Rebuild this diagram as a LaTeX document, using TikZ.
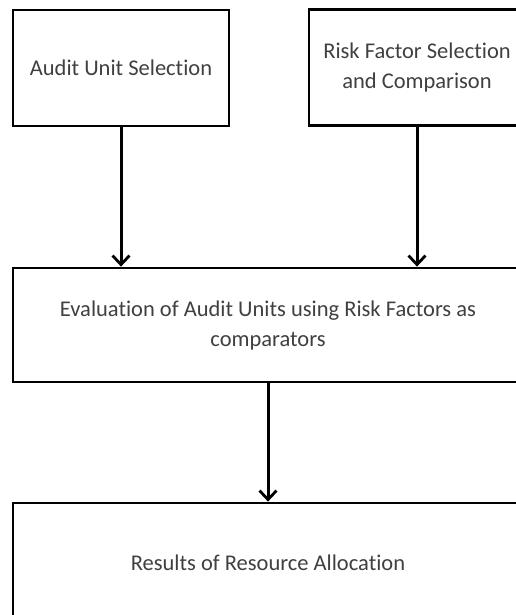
\documentclass[tikz,border=0pt]{standalone}
\usepackage{fontspec}
\setmainfont{Carlito}[Ligatures={NoCommon}]
\usepackage{tikz}
\usetikzlibrary{arrows.meta,positioning,calc}

\begin{document}
\begin{tikzpicture}[
    x=1pt, y=-1pt,
    box/.style={rectangle, draw=black, line width=2.8pt, fill=white, text=black!75, align=center, font=\fontsize{22.5}{30}\selectfont},
    smallbox/.style={box, minimum width=216pt, minimum height=116pt},
    widebox/.style={box, minimum width=510pt, minimum height=114pt},
    arrow/.style={-{Straight Barb[length=9pt,width=17pt,line width=2.8pt]}, line width=3pt}
]
\useasboundingbox (0,0) rectangle (515,615);

% Inputs
\node[smallbox] (auditunit) at (121,68) {Audit Unit Selection};
\node[smallbox] (riskfactor) at (417,67.5) {Risk Factor Selection\\and Comparison};

% Evaluation
\node[widebox] (evaluation) at (268,325) {Evaluation of Audit Units using Risk Factors as\\comparators};

% Results
\node[widebox, minimum height=120pt] (results) at (268,563) {Results of Resource Allocation};

% Connections
\draw[arrow] (auditunit.south) -- (auditunit.south |- evaluation.north);
\draw[arrow] (riskfactor.south) -- (riskfactor.south |- evaluation.north);
\draw[arrow] (evaluation.south) -- (results.north);

\end{tikzpicture}
\end{document}
